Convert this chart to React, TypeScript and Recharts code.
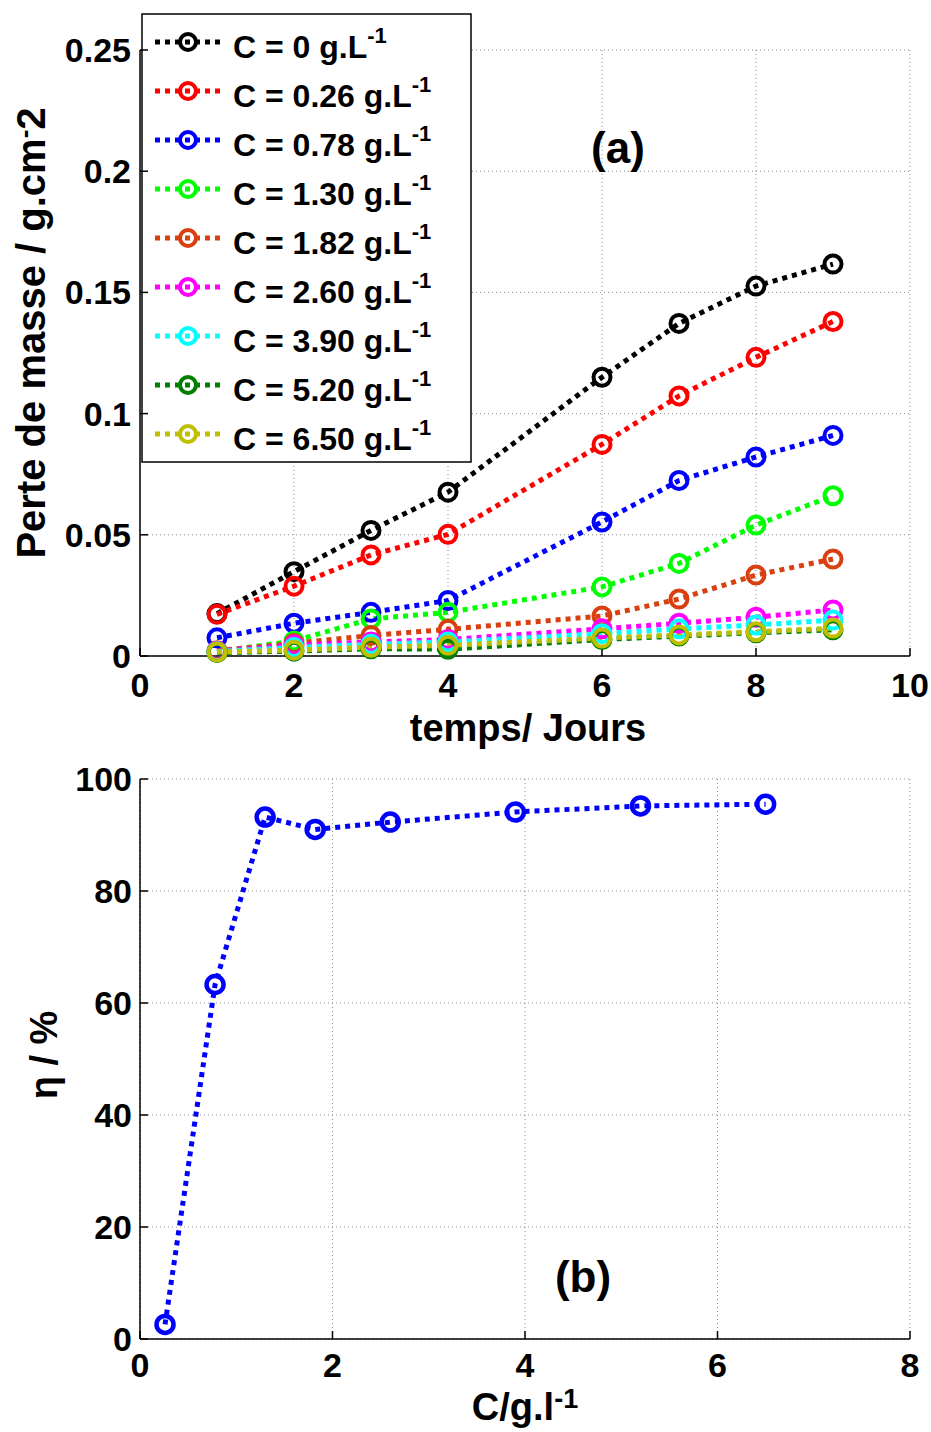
import React from 'react';
import { LineChart, Line, XAxis, YAxis, CartesianGrid } from 'recharts';

const FONT = '"Liberation Sans", Arial, Helvetica, sans-serif';

// (a) perte de masse vs temps
const days = [1, 2, 3, 4, 6, 7, 8, 9];
const concLabels = ['0', '0.26', '0.78', '1.30', '1.82', '2.60', '3.90', '5.20', '6.50'];
const seriesColors = ['#000000', '#ff0000', '#0000ff', '#00ff00', '#d9400f', '#ff00ff', '#00ffff', '#007f00', '#bfbf00'];

const loss000 = [0.0175, 0.0348, 0.0518, 0.0676, 0.115, 0.1372, 0.1526, 0.1617];
const loss026 = [0.0172, 0.0288, 0.0417, 0.0502, 0.0873, 0.1073, 0.1232, 0.138];
const loss078 = [0.0075, 0.0135, 0.018, 0.0229, 0.0553, 0.0724, 0.0821, 0.091];
const loss130 = [0.0018, 0.0062, 0.0153, 0.018, 0.0285, 0.0382, 0.054, 0.0661];
const loss182 = [0.0022, 0.0052, 0.0085, 0.011, 0.0165, 0.0235, 0.0334, 0.04];
const loss260 = [0.002, 0.0045, 0.0058, 0.0068, 0.0112, 0.0135, 0.016, 0.019];
const loss390 = [0.0018, 0.0035, 0.0048, 0.0058, 0.0092, 0.0112, 0.0128, 0.0148];
const loss520 = [0.0014, 0.002, 0.003, 0.0028, 0.0068, 0.0082, 0.0096, 0.0108];
const loss650 = [0.0016, 0.0024, 0.0036, 0.0044, 0.0074, 0.0087, 0.01, 0.0115];
const massLoss = [loss000, loss026, loss078, loss130, loss182, loss260, loss390, loss520, loss650];

const tempsTicks = [0, 2, 4, 6, 8, 10];
const lossTicks = [0, 0.05, 0.1, 0.15, 0.2, 0.25];

// (b) efficacite vs concentration
const effConc = [0.26, 0.78, 1.3, 1.82, 2.6, 3.9, 5.2, 6.5];
const effValues = [2.6, 63.3, 93.2, 91.0, 92.3, 94.1, 95.2, 95.5];
const concTicks = [0, 2, 4, 6, 8];
const etaTicks = [0, 20, 40, 60, 80, 100];

const lossRows = days.map((d, i) => {
  const row: Record<string, number> = { day: d };
  massLoss.forEach((s, k) => (row['s' + k] = s[i]));
  return row;
});
const effRows = effConc.map((c, i) => ({ c, eta: effValues[i] }));

const tickStyle = { fill: '#000', fontSize: 34, fontWeight: 'bold', fontFamily: FONT };
const axisStroke = { stroke: '#000', strokeWidth: 1.5 };
const txt = { fontFamily: FONT, fontWeight: 'bold', fill: '#000' } as const;

function LegendBox() {
  return (
    <g>
      <rect x={142} y={14} width={329} height={448} fill="#fff" stroke="#000" strokeWidth={1.5} />
      {concLabels.map((c, i) => {
        const cy = 42 + i * 49;
        return (
          <g key={c}>
            <line x1={155} x2={221} y1={cy} y2={cy} stroke={seriesColors[i]} strokeWidth={5} strokeDasharray="5 5" />
            <circle cx={188} cy={cy} r={8} fill="none" stroke={seriesColors[i]} strokeWidth={4} />
            <text x={233} y={cy + 16} fontSize={32} {...txt}>
              C = {c} g.L<tspan dy={-15} fontSize={22}>-1</tspan>
            </text>
          </g>
        );
      })}
    </g>
  );
}

export default function App() {
  return (
    <div style={{ position: 'absolute', left: 0, top: 0, width: 931, height: 1432, background: '#fff' }}>
      <div style={{ position: 'absolute', left: 0, top: 0 }}>
        <LineChart width={931} height={760} data={lossRows} margin={{ top: 50, right: 21, bottom: 0, left: 0 }}>
          <CartesianGrid stroke="#8a8a8a" strokeDasharray="1 3" />
          <XAxis dataKey="day" type="number" domain={[0, 10]} ticks={tempsTicks} height={104}
            tick={tickStyle} tickSize={-8} tickMargin={25} axisLine={axisStroke} tickLine={axisStroke} />
          <XAxis xAxisId="top" orientation="top" type="number" domain={[0, 10]} ticks={tempsTicks} height={0}
            tick={false} tickSize={-8} axisLine={axisStroke} tickLine={axisStroke} />
          <YAxis type="number" domain={[0, 0.25]} ticks={lossTicks} width={140}
            tick={tickStyle} tickSize={-8} tickMargin={17} axisLine={axisStroke} tickLine={axisStroke} />
          <YAxis yAxisId="right" orientation="right" type="number" domain={[0, 0.25]} ticks={lossTicks} width={0}
            tick={false} tickSize={-8} axisLine={axisStroke} tickLine={axisStroke} />
          {massLoss.map((_, k) => (
            <Line key={k} dataKey={'s' + k} type="linear" stroke={seriesColors[k]} strokeWidth={5}
              strokeDasharray="5 5" isAnimationActive={false}
              dot={{ r: 8.5, fill: 'none', stroke: seriesColors[k], strokeWidth: 4, strokeDasharray: 'none' }}
              activeDot={false} />
          ))}
          <text x={528} y={741} textAnchor="middle" fontSize={38} {...txt}>temps/ Jours</text>
          <text x={45} y={333} transform="rotate(-90 45 333)" textAnchor="middle" fontSize={40} {...txt}>
            Perte de masse / g.cm<tspan dy={-12} fontSize={26}>-</tspan><tspan dy={12}>2</tspan>
          </text>
          <text x={618} y={163} textAnchor="middle" fontSize={44} {...txt}>(a)</text>
          <LegendBox />
        </LineChart>
      </div>
      <div style={{ position: 'absolute', left: 0, top: 760 }}>
        <LineChart width={931} height={672} data={effRows} margin={{ top: 19, right: 21, bottom: 0, left: 0 }}>
          <CartesianGrid stroke="#8a8a8a" strokeDasharray="1 3" />
          <XAxis dataKey="c" type="number" domain={[0, 8]} ticks={concTicks} height={93}
            tick={tickStyle} tickSize={-8} tickMargin={22} axisLine={axisStroke} tickLine={axisStroke} />
          <XAxis xAxisId="top" orientation="top" type="number" domain={[0, 8]} ticks={concTicks} height={0}
            tick={false} tickSize={-8} axisLine={axisStroke} tickLine={axisStroke} />
          <YAxis type="number" domain={[0, 100]} ticks={etaTicks} width={140}
            tick={tickStyle} tickSize={-8} tickMargin={16} axisLine={axisStroke} tickLine={axisStroke} />
          <YAxis yAxisId="right" orientation="right" type="number" domain={[0, 100]} ticks={etaTicks} width={0}
            tick={false} tickSize={-8} axisLine={axisStroke} tickLine={axisStroke} />
          <Line dataKey="eta" type="linear" stroke="#0000ff" strokeWidth={5} strokeDasharray="5 5"
            isAnimationActive={false} activeDot={false}
            dot={{ r: 8.5, fill: 'none', stroke: '#0000ff', strokeWidth: 4.5, strokeDasharray: 'none' }} />
          <text x={525} y={660} textAnchor="middle" fontSize={38} {...txt}>
            C/g.l<tspan dy={-12} fontSize={27}>-1</tspan>
          </text>
          <text x={57} y={295} transform="rotate(-90 57 295)" textAnchor="middle" fontSize={38} {...txt}>η / %</text>
          <text x={583} y={532} textAnchor="middle" fontSize={44} {...txt}>(b)</text>
        </LineChart>
      </div>
    </div>
  );
}
